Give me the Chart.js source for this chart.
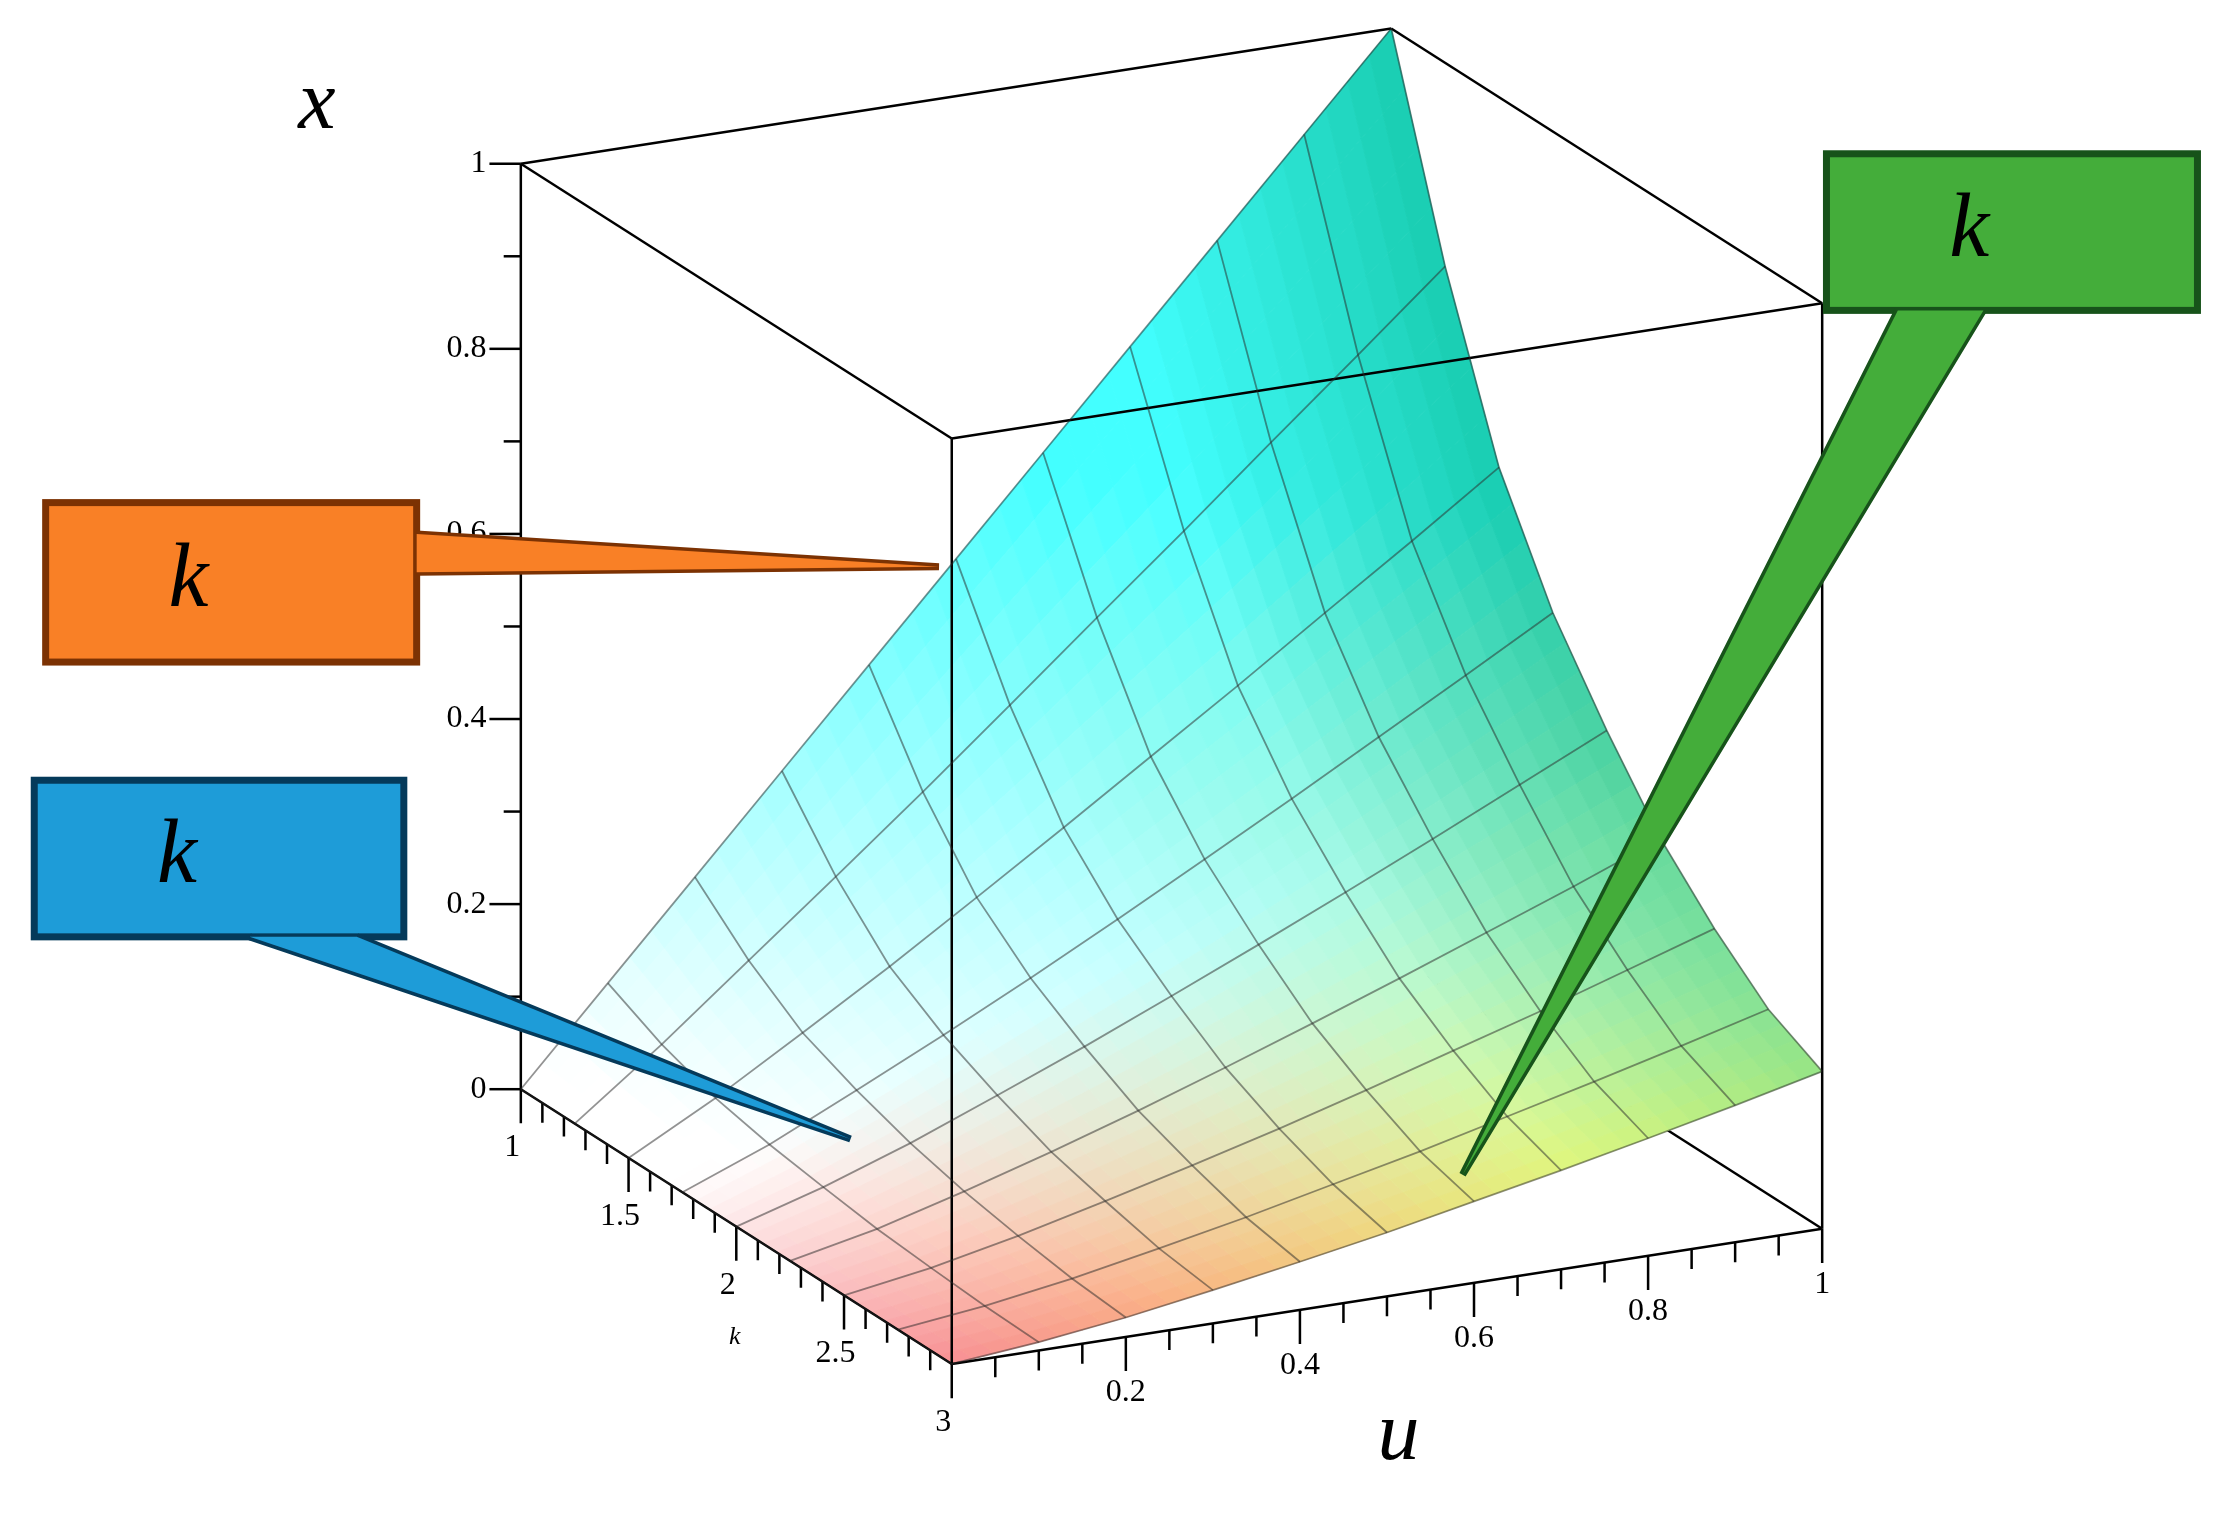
<!DOCTYPE html>
<html>
<head>
<meta charset="utf-8">
<title>Surface x(u,k)</title>
<script src="https://cdn.jsdelivr.net/npm/chart.js@4.4.1/dist/chart.umd.min.js"></script>
<style>
  body { margin: 0; background: #fff; }
  canvas { display: block; }
</style>
</head>
<body>
<canvas id="plot" width="2226" height="1532"></canvas>
<script>
// grid values
var uValues = [0, 0.1, 0.2, 0.3, 0.4, 0.5, 0.6, 0.7, 0.8, 0.9, 1];
var kValues = [1, 1.25, 1.5, 1.75, 2, 2.25, 2.5, 2.75, 3];
// xValues[k index][u index]
var xValues = [
  [0, .1, .2, .3, .4, .5, .6, .7, .8, .9, 1],
  [0, .071, .147, .223, .3, .379, .459, .538, .619, .699, .78],
  [0, .05, .106, .163, .223, .284, .346, .408, .472, .535, .6],
  [0, .037, .081, .126, .173, .222, .272, .323, .375, .427, .48],
  [0, .028, .061, .098, .136, .176, .217, .259, .302, .346, .39],
  [0, .02, .046, .074, .104, .136, .169, .203, .238, .273, .31],
  [0, .015, .035, .058, .082, .107, .134, .162, .19, .22, .25],
  [0, .011, .026, .044, .063, .084, .105, .128, .151, .175, .2],
  [0, .009, .021, .036, .052, .069, .088, .107, .127, .148, .17]
];
var xTicks = ['0', '0.2', '0.4', '0.6', '0.8', '1'];
var uTicks = ['0.2', '0.4', '0.6', '0.8', '1'];
var kTicks = ['1', '1.5', '2', '2.5', '3'];
var calloutText = 'k';

// projection of (u, k, x) onto the flat page scale
function proj(u, k, x) {
  var s = (k - 1) / 2;
  return { x: 365 + u * 610 + s * 302, y: 765 - u * 95 + s * 193 - x * 650 };
}

var datasets = [];
function line(pts, color, width) {
  datasets.push({ data: pts, showLine: true, pointRadius: 0, borderColor: color, borderWidth: width, fill: false });
}
var meshColor = 'rgba(40,40,40,0.5)';
for (var i = 0; i < kValues.length; i++) {
  var pts = [];
  for (var j = 0; j < uValues.length; j++) pts.push(proj(uValues[j], kValues[i], xValues[i][j]));
  line(pts, meshColor, 1.8);
}
for (var j = 0; j < uValues.length; j++) {
  var pts = [];
  for (var i = 0; i < kValues.length; i++) pts.push(proj(uValues[j], kValues[i], xValues[i][j]));
  line(pts, meshColor, 1.8);
}
// box edges
var edges = [
  [[0,1,1],[1,1,1]], [[1,1,1],[1,3,1]], [[1,3,1],[0,3,1]], [[0,3,1],[0,1,1]],
  [[0,1,0],[0,1,1]], [[0,3,0],[0,3,1]], [[1,3,0],[1,3,1]],
  [[0,1,0],[0,3,0]], [[0,3,0],[1,3,0]]
];
edges.forEach(function (e) {
  line([proj(e[0][0], e[0][1], e[0][2]), proj(e[1][0], e[1][1], e[1][2])], '#000', 2.5);
});
// tick marks
for (var t = 0; t <= 20; t++) {
  var v = t / 20, p = proj(0, 1, v), len = (t % 4 === 0) ? 22 : 12;
  if (t % 2 === 0) line([p, { x: p.x - len, y: p.y }], '#000', 2.5);
}
for (var t = 1; t <= 20; t++) {
  var p = proj(t / 20, 3, 0), len = (t % 4 === 0) ? 24 : 14;
  line([p, { x: p.x, y: p.y + len }], '#000', 2.5);
}
for (var t = 0; t <= 20; t++) {
  var p = proj(0, 1 + t / 10, 0), len = (t % 5 === 0) ? 24 : 14;
  line([p, { x: p.x, y: p.y + len }], '#000', 2.5);
}

function mix(a, b, t) { return [a[0] + (b[0] - a[0]) * t, a[1] + (b[1] - a[1]) * t, a[2] + (b[2] - a[2]) * t]; }
function clamp(v) { return Math.max(0, Math.min(1, v)); }
function surfColor(u, k, x) {
  var s = (k - 1) / 2;
  var warm = mix([245, 110, 115], [255, 245, 80], clamp(u * 1.4));
  var c = [255, 255, 255];
  var w = clamp((s - 0.35) * 1.4 - x * 1.5 + u * 0.35);
  c = mix(c, warm, w * 0.85);
  var cy = clamp(x * 1.8 - 0.05);
  c = mix(c, [20, 255, 255], cy * 0.8);
  var dark = clamp(u * 3 - 2.1) * clamp(x * 3 - 0.1) * 0.7;
  c = mix(c, [0, 175, 130], dark);
  var gr = clamp(u * 1.5 - 0.7) * clamp(1 - Math.abs(x - 0.3) * 4) * 0.5;
  c = mix(c, [140, 225, 120], gr);
  return 'rgb(' + c.map(Math.round).join(',') + ')';
}

var surfacePlugin = {
  id: 'surface',
  beforeDatasetsDraw: function (chart) {
    var ctx = chart.ctx, sx = chart.scales.x, sy = chart.scales.y;
    function px(p) { return [sx.getPixelForValue(p.x), sy.getPixelForValue(p.y)]; }
    ctx.save();
    // hidden bottom edge at u = 1
    var a = px(proj(1, 1, 0)), b = px(proj(1, 3, 0));
    ctx.strokeStyle = '#000'; ctx.lineWidth = 2.5;
    ctx.beginPath(); ctx.moveTo(a[0], a[1]); ctx.lineTo(b[0], b[1]); ctx.stroke();
    // fine colour patches, split each cell in 4x4 for smooth shading
    var N = 4;
    for (var i = 0; i < kValues.length - 1; i++) {
      for (var j = 0; j < uValues.length - 1; j++) {
        var x00 = xValues[i][j], x10 = xValues[i][j + 1], x01 = xValues[i + 1][j], x11 = xValues[i + 1][j + 1];
        for (var a1 = 0; a1 < N; a1++) for (var b1 = 0; b1 < N; b1++) {
          var corners = [[a1, b1], [a1 + 1, b1], [a1 + 1, b1 + 1], [a1, b1 + 1]].map(function (c) {
            var fu = c[0] / N, fk = c[1] / N;
            var xv = x00 * (1 - fu) * (1 - fk) + x10 * fu * (1 - fk) + x01 * (1 - fu) * fk + x11 * fu * fk;
            var uu = uValues[j] + (uValues[j + 1] - uValues[j]) * fu;
            var kk = kValues[i] + (kValues[i + 1] - kValues[i]) * fk;
            return { u: uu, k: kk, x: xv };
          });
          var um = 0, km = 0, xm = 0;
          corners.forEach(function (c) { um += c.u / 4; km += c.k / 4; xm += c.x / 4; });
          ctx.fillStyle = surfColor(um, km, xm);
          ctx.strokeStyle = ctx.fillStyle;
          ctx.lineWidth = 1;
          ctx.beginPath();
          corners.forEach(function (c, n) {
            var q = px(proj(c.u, c.k, c.x));
            if (n === 0) ctx.moveTo(q[0], q[1]); else ctx.lineTo(q[0], q[1]);
          });
          ctx.closePath(); ctx.fill(); ctx.stroke();
        }
      }
    }
    ctx.restore();
  },
  afterDatasetsDraw: function (chart) {
    var ctx = chart.ctx, sx = chart.scales.x, sy = chart.scales.y;
    function P(x, y) { return [sx.getPixelForValue(x), sy.getPixelForValue(y)]; }
    ctx.save();
    ctx.fillStyle = '#000';
    ctx.font = '32px "Liberation Serif"';
    ctx.textAlign = 'right'; ctx.textBaseline = 'middle';
    xTicks.forEach(function (lab, n) {
      var p = proj(0, 1, n * 0.2), q = P(p.x - 24, p.y);
      ctx.fillText(lab, q[0], q[1]);
    });
    ctx.textAlign = 'center'; ctx.textBaseline = 'top';
    uTicks.forEach(function (lab, n) {
      var p = proj((n + 1) * 0.2, 3, 0), q = P(p.x, p.y + 28);
      ctx.fillText(lab, q[0], q[1]);
    });
    kTicks.forEach(function (lab, n) {
      var p = proj(0, 1 + n * 0.5, 0), q = P(p.x - 6, p.y + 30);
      ctx.fillText(lab, q[0], q[1]);
    });
    ctx.font = 'italic 26px "Liberation Serif"';
    var q = P(515, 930); ctx.fillText('k', q[0], q[1]);
    ctx.font = 'italic 84px "Liberation Serif"';
    q = P(222, 45); ctx.fillText('x', q[0], q[1]);
    q = P(980, 980); ctx.fillText('u', q[0], q[1]);

    // callouts: box, then pointer tip
    var callouts = [
      { box: [32, 353, 292, 465], base: [292, 375, 292, 402], tip: [658, 398], fill: '#f98026', edge: '#7c3203' },
      { box: [24, 548, 283, 658], base: [175, 658, 250, 658], tip: [596, 800], fill: '#1e9cd8', edge: '#053a5a' },
      { box: [1280, 108, 1540, 218], base: [1330, 218, 1390, 218], tip: [1025, 825], fill: '#44ad3a', edge: '#17531a' }
    ];
    callouts.forEach(function (c) {
      ctx.fillStyle = c.fill; ctx.strokeStyle = c.edge; ctx.lineWidth = 7; ctx.lineJoin = 'miter';
      var a = P(c.box[0], c.box[1]), b = P(c.box[2], c.box[3]);
      ctx.fillRect(a[0], a[1], b[0] - a[0], b[1] - a[1]);
      ctx.strokeRect(a[0], a[1], b[0] - a[0], b[1] - a[1]);
      var b1 = P(c.base[0], c.base[1]), b2 = P(c.base[2], c.base[3]), t = P(c.tip[0], c.tip[1]);
      ctx.beginPath(); ctx.moveTo(b1[0], b1[1]); ctx.lineTo(t[0], t[1]); ctx.lineTo(b2[0], b2[1]);
      ctx.stroke(); ctx.closePath(); ctx.fill();
      ctx.fillStyle = '#000';
      ctx.font = 'italic 90px "Liberation Serif"';
      ctx.textAlign = 'center'; ctx.textBaseline = 'middle';
      var m = P(c.box[0] + 100, (c.box[1] + c.box[3]) / 2);
      ctx.fillText(calloutText, m[0], m[1]);
    });
    ctx.restore();
  }
};

new Chart(document.getElementById('plot'), {
  type: 'scatter',
  data: { datasets: datasets },
  options: {
    responsive: false,
    devicePixelRatio: 1,
    animation: false,
    layout: { padding: 0 },
    plugins: { legend: { display: false }, tooltip: { enabled: false } },
    scales: {
      x: { type: 'linear', min: 0, max: 1560, display: false },
      y: { type: 'linear', min: 0, max: 1076, reverse: true, display: false }
    }
  },
  plugins: [surfacePlugin]
});
</script>
</body>
</html>
